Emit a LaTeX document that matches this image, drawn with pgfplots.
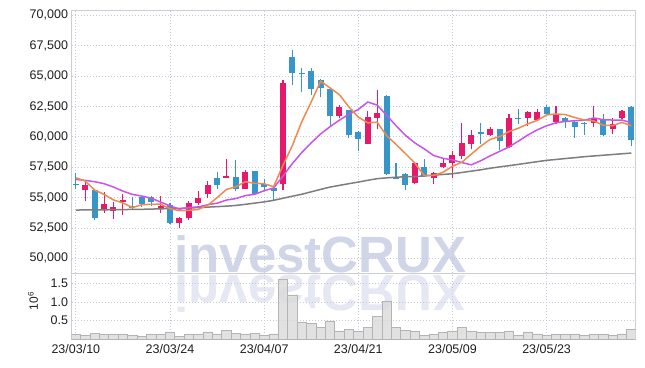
\documentclass[border=0pt]{standalone}
\usepackage{fontspec}
\setmainfont{Liberation Sans}
\usepackage{pgfplots}
\pgfplotsset{compat=1.18}
\usepackage{pgfplotstable}
\usetikzlibrary{calc}

\definecolor{pinkc}{RGB}{230,25,106}
\definecolor{bluec}{RGB}{55,150,201}
\definecolor{orangec}{RGB}{238,138,79}
\definecolor{purplec}{RGB}{200,84,232}
\definecolor{grayc}{RGB}{125,125,125}
\definecolor{gridc}{RGB}{196,200,218}
\definecolor{axc}{RGB}{205,205,210}
\definecolor{labc}{RGB}{30,30,30}
\definecolor{volc}{RGB}{218,218,218}
\definecolor{voledge}{RGB}{180,180,180}
\definecolor{wm}{RGB}{208,214,232}

% up (pink) candles: i O H L C
\pgfplotstableread{
i O H L C
1 55620 56360 54720 56070
3 54030 55490 53760 54450
4 53900 54630 53210 54250
5 54640 55330 53540 54770
9 54120 55100 53760 54280
11 52900 53400 52500 53350
12 53300 54720 53200 54600
13 54530 55540 54390 55000
14 55270 56360 55000 56010
16 56610 58210 56610 56750
18 55740 57270 55740 57100
22 56090 64650 55620 64460
28 61710 62590 61520 62450
31 59440 62130 59440 61660
32 61580 63850 60620 61990
36 56230 57880 56150 57820
38 56610 57140 56090 57000
39 57520 58290 57450 57820
40 57880 58830 56590 58500
41 58420 61170 58210 59470
42 59440 60560 58970 60120
44 60150 60840 60070 60620
46 59190 61910 59100 61520
48 61580 62120 60890 62040
49 61380 62260 61300 62070
51 61250 62540 61030 61910
55 61170 62540 60840 61500
57 60620 61520 60260 61090
58 61520 62200 61500 62120
}\upt

% down (blue) candles: i O H L C
\pgfplotstableread{
i O H L C
0 56100 57050 55700 56000
2 55600 55650 53150 53290
6 54330 55080 54100 54150
7 55080 55130 54260 54450
8 55050 55130 54300 54650
10 54400 54550 52800 52900
15 56590 57140 55680 56030
17 56730 58070 55540 55680
19 57160 57200 55250 55330
20 56100 56500 55540 55870
21 55820 55950 54720 55540
23 66600 67120 64260 65280
24 65280 65640 63690 65140
25 65420 65640 63440 63970
26 64680 64730 63270 64050
27 63970 64000 60890 61710
29 62180 62200 59930 60150
30 60400 60480 58830 59800
33 63360 63420 56830 56920
34 56720 57880 56500 56560
35 56970 57050 55600 56010
37 57550 58210 56700 56780
43 60370 61110 59440 60260
45 60620 60650 58910 59660
47 61580 62260 61090 61500
50 62450 62620 61850 61910
52 61580 61620 60760 61250
53 61250 61300 59930 60810
54 61170 61250 60150 61090
56 61500 61910 60100 60150
59 62450 62510 59240 59740
}\dnt

% moving averages: i ma5 ma10 ma60
\pgfplotstableread{
i m5 m10 m60
0 56640 56500 53980
1 56360 56420 53990
2 55620 56310 54000
3 55270 56150 54000
4 54812 55870 54010
5 54566 55540 54020
6 54182 55270 54030
7 54414 55130 54040
8 54454 54960 54060
9 54460 54636 54080
10 54086 54326 54100
11 53926 54054 54120
12 53956 54185 54150
13 54026 54240 54180
14 54372 54416 54220
15 54998 54542 54260
16 55678 54802 54300
17 55894 54925 54360
18 56314 55170 54450
19 56178 55275 54550
20 56146 55572 54650
21 55904 55791 54780
22 57660 56777 54950
23 59296 57805 55120
24 61258 58718 55280
25 62878 59512 55480
26 64580 60242 55680
27 64030 60845 55870
28 63464 61380 56010
29 62466 61862 56150
30 61632 62255 56280
31 61154 62867 56430
32 61210 62620 56560
33 60104 61784 56630
34 59386 60926 56680
35 58628 60130 56720
36 57860 59507 56740
37 56818 59014 56780
38 56834 58469 56850
39 57086 58236 56910
40 57584 58106 56970
41 57914 57887 57070
42 58582 57700 57180
43 59234 58034 57290
44 59794 58440 57420
45 60026 58805 57530
46 60436 59175 57630
47 60712 59647 57740
48 61068 60151 57850
49 61358 60576 57960
50 61808 60917 58070
51 61886 61161 58140
52 61836 61274 58220
53 61590 61329 58290
54 61394 61376 58370
55 61312 61560 58430
56 60960 61423 58490
57 60928 61382 58550
58 61190 61390 58610
59 60920 61159 58670
}\mat

% volume in millions
\pgfplotstableread{
i v
0 0.135
1 0.10
2 0.16
3 0.135
4 0.135
5 0.135
6 0.108
7 0.08
8 0.135
9 0.135
10 0.19
11 0.08
12 0.135
13 0.135
14 0.19
15 0.135
16 0.24
17 0.16
18 0.135
19 0.16
20 0.108
21 0.135
22 1.61
23 1.19
24 0.46
25 0.41
26 0.32
27 0.49
28 0.22
29 0.26
30 0.22
31 0.32
32 0.62
33 1.03
34 0.32
35 0.24
36 0.22
37 0.10
38 0.135
39 0.17
40 0.22
41 0.32
42 0.22
43 0.17
44 0.17
45 0.17
46 0.22
47 0.11
48 0.19
49 0.135
50 0.10
51 0.135
52 0.135
53 0.135
54 0.10
55 0.135
56 0.135
57 0.10
58 0.135
59 0.27
}\volt

\pgfplotsset{
  candle/.style={only marks, mark=*, mark size=0pt,
    mark options={draw=none, fill=none}, forget plot,
    error bars/.cd, y dir=plus, y explicit, error mark=none},
  panel/.style={scale only axis, width=564pt,
    xmin=-0.46, xmax=59.44, xtick={0,10,...,50},
    grid=major, grid style={gridc, line width=0.8pt, dash pattern=on 0.8pt off 2.2pt},
    major tick length=0pt,
    axis line style={axc, line width=0.9pt}},
}

\begin{document}
\begin{tikzpicture}

% watermark and its reflection
\node[anchor=base, inner sep=0pt, text=wm, font=\fontsize{51}{51}\selectfont\bfseries] at (320.5pt,95pt) {investCRUX};
\node[anchor=base, inner sep=0pt, yscale=-1, text=wm, opacity=0.55, font=\fontsize{51}{51}\selectfont\bfseries] at (320.5pt,91pt) {investCRUX};

% price panel
\begin{axis}[panel,
  name=price,
  at={(71.5pt,94pt)}, anchor=south west,
  height=262.5pt,
  ymin=48800, ymax=70400,
  xticklabels={},
  ytick={50000,52500,...,70000},
  scaled y ticks=false,
  yticklabel style={font=\fontsize{12.5}{12.5}\selectfont, text=labc,
    /pgf/number format/.cd, 1000 sep={,}, assume math mode=true},
]
% wicks
\addplot[candle, error bar style={line width=1.1pt, draw=pinkc}]
  table[x=i, y=L, y error plus expr=\thisrow{H}-\thisrow{L}] {\upt};
\addplot[candle, error bar style={line width=1.1pt, draw=bluec}]
  table[x=i, y=L, y error plus expr=\thisrow{H}-\thisrow{L}] {\dnt};
% bodies
\addplot[candle, error bar style={line width=6pt, draw=pinkc}]
  table[x=i, y=O, y error plus expr=\thisrow{C}-\thisrow{O}] {\upt};
\addplot[candle, error bar style={line width=6pt, draw=bluec}]
  table[x=i, y=C, y error plus expr=\thisrow{O}-\thisrow{C}] {\dnt};
% moving averages
\addplot[grayc, line width=1.5pt, mark=none] table[x=i, y=m60] {\mat};
\addplot[purplec, line width=1.5pt, mark=none] table[x=i, y=m10] {\mat};
\addplot[orangec, line width=1.5pt, mark=none] table[x=i, y=m5] {\mat};
\end{axis}

% volume panel
\begin{axis}[panel,
  name=vol,
  at={(price.south west)}, anchor=north west,
  height=66pt,
  ymin=0, ymax=1.78,
  xticklabels={23/03/10,23/03/24,23/04/07,23/04/21,23/05/09,23/05/23},
  ytick={0.5,1,1.5},
  yticklabel style={font=\fontsize{12.5}{12.5}\selectfont, text=labc,
    /pgf/number format/.cd, fixed, fixed zerofill, precision=1, assume math mode=true},
  xticklabel style={font=\fontsize{12.5}{12.5}\selectfont, text=labc, yshift=-2pt},
]
\addplot[ybar, bar width=1, bar shift=0pt, fill=volc, draw=voledge, line width=0.6pt, fill opacity=0.8] table[x=i, y=v] {\volt};
\end{axis}

\node[rotate=90, text=labc, font=\fontsize{12}{12}\selectfont] at ($(vol.south west)+(-38.5pt,38pt)$) {10\textsuperscript{6}};

\pgfresetboundingbox
\useasboundingbox ($(vol.south west)+(-71.5pt,-28pt)$) rectangle ($(vol.south west)+(573.5pt,339pt)$);
\end{tikzpicture}
\end{document}
